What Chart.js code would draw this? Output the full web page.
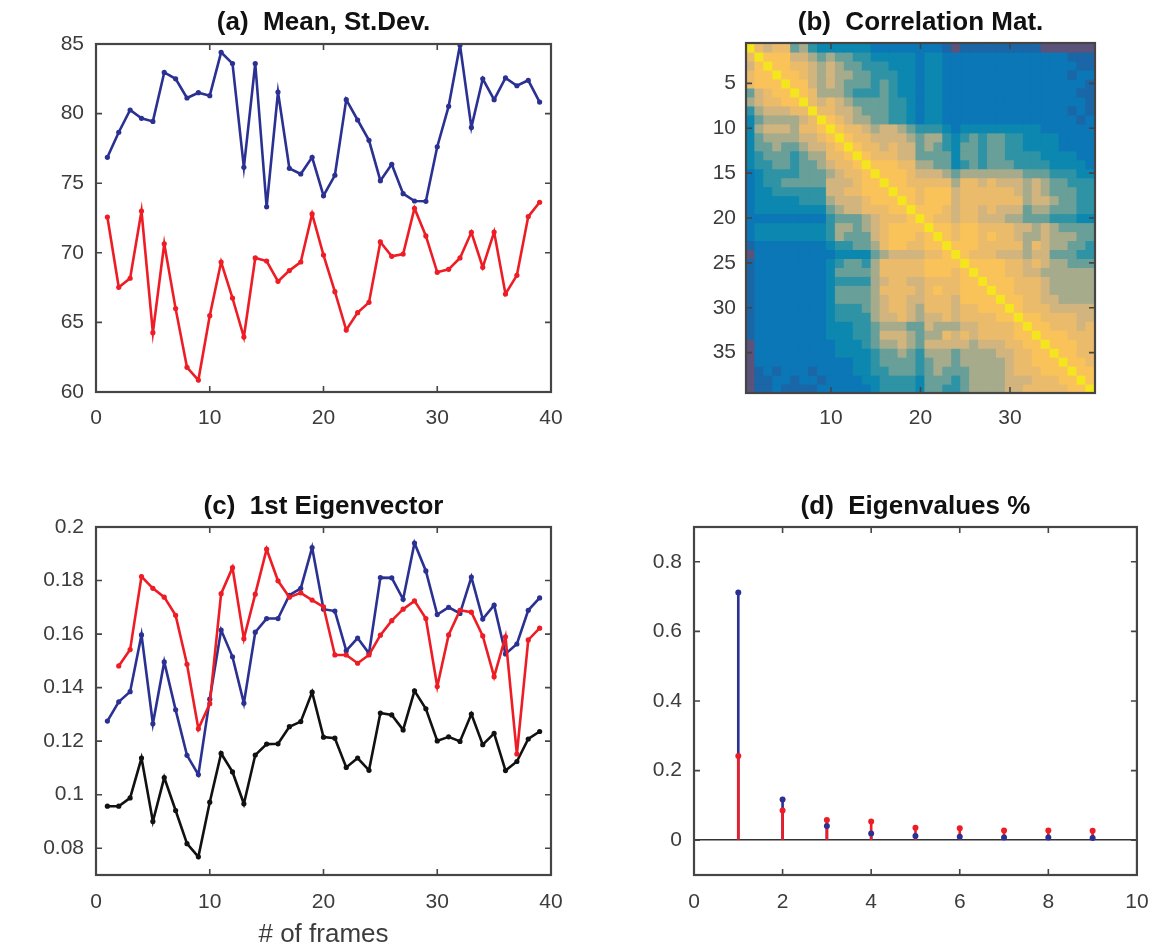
<!DOCTYPE html>
<html>
<head>
<meta charset="utf-8">
<script src="https://cdn.jsdelivr.net/npm/chart.js@4.4.1/dist/chart.umd.min.js"></script>
<style>
  html, body { margin: 0; padding: 0; background: #fff; }
  body { width: 1163px; height: 950px; position: relative; overflow: hidden; }
  canvas { position: absolute; }
</style>
</head>
<body>
<canvas id="chartA" width="580" height="460" style="left:0;top:0"></canvas>
<canvas id="chartB" width="563" height="460" style="left:600px;top:0"></canvas>
<canvas id="chartC" width="580" height="470" style="left:0;top:480px"></canvas>
<canvas id="chartD" width="563" height="470" style="left:600px;top:480px"></canvas>
<script>
// ---- data ----
const frames = [1, 2, 3, 4, 5, 6, 7, 8, 9, 10, 11, 12, 13, 14, 15, 16, 17, 18, 19, 20,
  21, 22, 23, 24, 25, 26, 27, 28, 29, 30, 31, 32, 33, 34, 35, 36, 37, 38, 39];

// (a) mean per frame
const meanBlue = [76.86, 78.66, 80.26, 79.66, 79.44, 82.96, 82.5, 81.12, 81.5, 81.29,
  84.4, 83.6, 76.14, 83.6, 73.3, 81.55, 76.07, 75.66, 76.86, 74.1,
  75.57, 81.0, 79.54, 78.08, 75.18, 76.36, 74.25, 73.72, 73.7, 77.62,
  80.52, 84.93, 79.01, 82.5, 81.0, 82.56, 82.0, 82.39, 80.83];
const meanRed = [72.57, 67.52, 68.17, 73.0, 64.26, 70.65, 65.99, 61.77, 60.86, 65.48,
  69.34, 66.75, 63.95, 69.63, 69.41, 67.95, 68.72, 69.34, 72.79, 69.84,
  67.21, 64.45, 65.7, 66.44, 70.78, 69.75, 69.91, 73.2, 71.21, 68.6,
  68.81, 69.63, 71.47, 68.96, 71.49, 67.04, 68.38, 72.6, 73.63];

// (c) first eigenvector
const eigBlue = [0.1275, 0.1347, 0.1385, 0.1597, 0.1265, 0.1496, 0.1317, 0.1147, 0.1075, 0.1357,
  0.1615, 0.1515, 0.1342, 0.1607, 0.1658, 0.1658, 0.1745, 0.1771, 0.1923, 0.1693,
  0.1686, 0.1538, 0.1585, 0.1528, 0.1811, 0.181, 0.173, 0.194, 0.1836, 0.1673,
  0.170, 0.1677, 0.1813, 0.1656, 0.1708, 0.1526, 0.1563, 0.1689, 0.1735];
const eigRed = [null, 0.1481, 0.1542, 0.1815, 0.1771, 0.1738, 0.167, 0.1487, 0.1246, 0.134,
  0.1751, 0.1848, 0.1583, 0.1749, 0.1917, 0.1799, 0.1738, 0.1754, 0.1727, 0.1702,
  0.1522, 0.1522, 0.1491, 0.1522, 0.1596, 0.165, 0.1693, 0.1724, 0.1658, 0.1404,
  0.1597, 0.1689, 0.1682, 0.1593, 0.1441, 0.159, 0.1152, 0.1578, 0.1622];
const eigBlack = [0.0957, 0.0957, 0.0988, 0.1137, 0.09, 0.1064, 0.0941, 0.0817, 0.0768, 0.0972,
  0.1154, 0.1085, 0.0966, 0.1148, 0.1189, 0.119, 0.1254, 0.1273, 0.1383, 0.1215,
  0.1211, 0.1102, 0.1137, 0.1091, 0.1305, 0.1298, 0.1242, 0.1388, 0.1321, 0.1201,
  0.1216, 0.1199, 0.1301, 0.1187, 0.1229, 0.109, 0.1124, 0.1208, 0.1236];

// (d) eigenvalues
const eigIdx = [1, 2, 3, 4, 5, 6, 7, 8, 9];
const eigvalBlue = [0.712, 0.117, 0.041, 0.019, 0.012, 0.010, 0.008, 0.008, 0.006];
const eigvalRed = [0.242, 0.085, 0.058, 0.054, 0.036, 0.034, 0.028, 0.028, 0.027];

// (b) correlation matrix, lower triangle, colour level 0..9, A = diagonal
const corrRows = [
  "A",
  "8 A",
  "7 9 A",
  "8 9 9 A",
  "8 9 9 9 A",
  "5 7 8 9 9 A",
  "6 7 8 8 9 9 A",
  "4 6 7 7 7 8 8 A",
  "3 5 6 6 6 6 7 8 A",
  "3 6 7 7 7 6 8 8 9 A",
  "3 5 6 6 6 6 7 7 8 9 A",
  "3 5 5 6 5 5 6 7 7 8 9 A",
  "3 4 5 5 5 4 5 6 6 8 8 9 A",
  "3 4 4 5 5 4 5 5 6 7 8 8 9 A",
  "2 3 4 4 4 4 5 5 5 6 7 8 8 9 A",
  "2 3 4 4 5 5 5 5 5 7 7 7 8 9 9 A",
  "2 3 3 4 4 4 4 4 4 7 7 8 8 9 9 9 A",
  "2 3 3 3 3 3 4 4 4 6 7 7 7 8 9 9 9 A",
  "2 3 3 3 3 3 3 3 3 5 6 7 7 8 8 8 9 9 A",
  "2 2 2 2 2 2 2 2 2 4 5 5 5 6 7 8 8 8 9 A",
  "2 3 3 3 3 3 3 3 3 4 6 6 5 6 7 8 9 9 9 9 A",
  "2 3 3 3 3 3 3 3 3 4 6 5 5 5 7 8 9 9 9 8 9 A",
  "1 2 2 2 2 2 2 2 2 3 4 4 5 5 6 8 9 9 8 8 9 9 A",
  "0 2 2 2 2 2 2 2 2 2 3 3 3 3 5 6 7 7 7 7 8 8 9 A",
  "1 2 2 2 2 2 2 2 2 3 4 5 5 4 6 8 8 8 8 8 9 9 9 9 A",
  "1 2 2 2 2 2 2 2 2 3 5 5 5 5 6 8 8 8 8 8 9 9 9 8 9 A",
  "1 2 2 2 2 2 2 2 2 3 4 4 4 4 6 7 8 8 7 7 8 8 8 8 9 9 A",
  "1 2 2 2 2 2 2 2 2 3 5 5 5 5 6 8 8 8 8 7 8 9 8 8 9 9 9 A",
  "1 2 2 2 2 2 2 2 2 3 5 5 5 5 6 7 8 8 7 7 8 8 8 7 9 9 9 9 A",
  "1 2 2 2 2 2 2 2 2 3 4 4 4 5 6 7 8 8 7 6 8 8 8 7 8 8 9 9 9 A",
  "1 2 2 2 2 2 2 2 2 3 4 4 4 4 6 7 7 8 7 6 7 7 8 7 8 8 8 8 9 9 A",
  "1 2 2 2 2 2 2 2 2 3 3 3 4 4 5 6 6 6 5 5 7 6 6 6 7 7 8 8 8 8 9 A",
  "1 2 2 2 2 2 2 2 2 3 3 3 4 4 5 7 7 7 6 5 6 6 8 7 8 7 8 8 8 8 9 9 A",
  "0 2 2 2 2 2 2 2 2 2 3 3 3 4 5 6 6 7 6 5 7 7 7 7 7 6 7 7 7 8 8 9 9 A",
  "0 2 2 2 2 2 2 2 2 2 3 3 3 3 4 5 5 6 5 4 6 6 6 5 6 6 6 6 7 7 8 8 9 9 A",
  "0 2 2 2 2 2 2 2 2 2 2 2 3 3 4 5 5 5 5 4 5 6 6 5 6 6 6 6 6 7 8 8 9 9 9 A",
  "0 1 2 1 2 2 2 1 2 2 2 2 3 3 4 4 5 5 5 4 5 6 5 5 5 6 6 6 6 7 8 8 8 9 9 9 A",
  "0 1 1 2 2 1 2 2 1 2 2 2 2 3 3 4 4 4 4 3 5 5 5 4 5 6 6 6 6 7 7 7 8 8 8 9 9 A",
  "0 1 1 2 1 1 1 1 2 2 2 2 2 2 3 4 4 4 4 3 5 5 4 4 5 6 6 6 6 7 7 8 8 8 8 8 9 9 A"
];
const corrPalette = {
  "0": "#5b5379", "1": "#1a66a6", "2": "#0b77b6", "3": "#0c87b0", "4": "#2f93a6",
  "5": "#689f98", "6": "#a6ab8c", "7": "#d1b47e", "8": "#ebbb6c", "9": "#fac35a",
  "A": "#f3e51e"
};

// tick positions
const frameTicks = [0, 10, 20, 30, 40];
const meanTicks = [60, 65, 70, 75, 80, 85];
const eigvecTicks = [0.08, 0.10, 0.12, 0.14, 0.16, 0.18, 0.20];
const corrXTicks = [10, 20, 30];
const corrYTicks = [5, 10, 15, 20, 25, 30, 35];
const eigIdxTicks = [0, 2, 4, 6, 8, 10];
const eigvalTicks = [0, 0.2, 0.4, 0.6, 0.8];

// ---- styles ----
const BLUE = '#2b3192';
const RED = '#ee1d25';
const BLACK = '#111111';
const AXIS = '#454545';
const TICK_COLOR = '#3c3c3c';
const FONT = "'Liberation Sans', Arial, Helvetica, sans-serif";

Chart.defaults.font.family = FONT;
Chart.defaults.color = TICK_COLOR;
Chart.defaults.animation = false;

// MATLAB-like box with inward ticks on all four sides
const boxTicks = {
  id: 'boxTicks',
  afterDraw(chart) {
    const {ctx, chartArea: a, scales} = chart;
    const len = 6;
    ctx.save();
    ctx.strokeStyle = AXIS;
    ctx.lineWidth = 1.6;
    ctx.beginPath();
    scales.x.ticks.forEach(t => {
      const px = scales.x.getPixelForValue(t.value);
      ctx.moveTo(px, a.bottom); ctx.lineTo(px, a.bottom - len);
      ctx.moveTo(px, a.top); ctx.lineTo(px, a.top + len);
    });
    scales.y.ticks.forEach(t => {
      const py = scales.y.getPixelForValue(t.value);
      ctx.moveTo(a.left, py); ctx.lineTo(a.left + len, py);
      ctx.moveTo(a.right, py); ctx.lineTo(a.right - len, py);
    });
    ctx.stroke();
    ctx.lineWidth = 2.2;
    ctx.strokeRect(a.left, a.top, a.right - a.left, a.bottom - a.top);
    ctx.restore();
  }
};

const setTicks = vals => scale => { scale.ticks = vals.map(v => ({value: v})); };
const tickFont = {size: 21};
const titleFont = {size: 26, weight: 'bold'};
const numLabel = v => String(+(+v).toFixed(2));

function lineSet(xs, ys, color) {
  return {
    data: xs.map((x, i) => ({x: x, y: ys[i]})),
    borderColor: color,
    backgroundColor: color,
    borderWidth: 2.6,
    pointRadius: 2.6,
    pointBorderWidth: 0,
    tension: 0
  };
}

// (a) Mean, St.Dev.
new Chart(document.getElementById('chartA'), {
  type: 'line',
  data: {
    datasets: [
      lineSet(frames, meanBlue, BLUE),
      lineSet(frames, meanRed, RED)
    ]
  },
  options: {
    responsive: false,
    events: [],
    layout: {padding: {left: 0, right: 29, top: 0, bottom: 0}},
    plugins: {
      legend: {display: false},
      tooltip: {enabled: false},
      title: {display: true, text: '(a)  Mean, St.Dev.', fullSize: false, color: '#111',
        font: titleFont, padding: {top: 7.7, bottom: 5.1}}
    },
    scales: {
      x: {
        type: 'linear', min: 0, max: 40,
        afterBuildTicks: setTicks(frameTicks),
        afterFit: s => { s.height = 68; },
        grid: {display: false, drawTicks: false}, border: {display: false},
        ticks: {font: tickFont, padding: 13.4, maxRotation: 0}
      },
      y: {
        min: 60, max: 85,
        afterBuildTicks: setTicks(meanTicks),
        afterFit: s => { s.width = 96; },
        grid: {display: false, drawTicks: false}, border: {display: false},
        ticks: {font: tickFont, padding: 12}
      }
    }
  },
  plugins: [boxTicks]
});

// (b) Correlation matrix
const corrLevel = corrRows.map(r => r.split(' '));
function corrColor(r, c) {
  const lv = r >= c ? corrLevel[r - 1][c - 1] : corrLevel[c - 1][r - 1];
  return corrPalette[lv];
}
new Chart(document.getElementById('chartB'), {
  type: 'bar',
  data: {
    datasets: frames.map(r => ({
      data: frames.map(c => ({x: c, y: [r - 0.5, r + 0.5]})),
      backgroundColor: frames.map(c => corrColor(r, c)),
      borderWidth: 0,
      grouped: false,
      barPercentage: 1,
      categoryPercentage: 1,
      inflateAmount: 0.6
    }))
  },
  options: {
    responsive: false,
    events: [],
    layout: {padding: {left: 0, right: 68, top: 0, bottom: 0}},
    plugins: {
      legend: {display: false},
      tooltip: {enabled: false},
      title: {display: true, text: '(b)  Correlation Mat.', fullSize: false, color: '#111',
        font: titleFont, padding: {top: 7.7, bottom: 4.1}}
    },
    scales: {
      x: {
        type: 'linear', min: 0.5, max: 39.5, offset: false,
        afterBuildTicks: setTicks(corrXTicks),
        afterFit: s => { s.height = 67; },
        grid: {display: false, drawTicks: false}, border: {display: false},
        ticks: {font: tickFont, padding: 12.4, maxRotation: 0}
      },
      y: {
        type: 'linear', min: 0.5, max: 39.5, reverse: true,
        afterBuildTicks: setTicks(corrYTicks),
        afterFit: s => { s.width = 146; },
        grid: {display: false, drawTicks: false}, border: {display: false},
        ticks: {font: tickFont, padding: 10}
      }
    }
  },
  plugins: [boxTicks]
});

// (c) 1st Eigenvector
new Chart(document.getElementById('chartC'), {
  type: 'line',
  data: {
    datasets: [
      lineSet(frames, eigRed, RED),
      lineSet(frames, eigBlue, BLUE),
      lineSet(frames, eigBlack, BLACK)
    ]
  },
  options: {
    responsive: false,
    events: [],
    layout: {padding: {left: 0, right: 29, top: 0, bottom: 0}},
    plugins: {
      legend: {display: false},
      tooltip: {enabled: false},
      title: {display: true, text: '(c)  1st Eigenvector', fullSize: false, color: '#111',
        font: titleFont, padding: {top: 11.4, bottom: 4.4}}
    },
    scales: {
      x: {
        type: 'linear', min: 0, max: 40,
        afterBuildTicks: setTicks(frameTicks),
        afterFit: s => { s.height = 75; },
        grid: {display: false, drawTicks: false}, border: {display: false},
        ticks: {font: tickFont, padding: 14.4, maxRotation: 0},
        title: {display: true, text: '# of frames', color: TICK_COLOR,
          font: {size: 26}, padding: {top: 0, bottom: 0}}
      },
      y: {
        min: 0.07, max: 0.2,
        afterBuildTicks: setTicks(eigvecTicks),
        afterFit: s => { s.width = 96; },
        grid: {display: false, drawTicks: false}, border: {display: false},
        ticks: {font: tickFont, padding: 12, callback: numLabel}
      }
    }
  },
  plugins: [boxTicks]
});

// (d) Eigenvalues %
function stemSet(ys, color, order) {
  return {
    type: 'bar',
    data: eigIdx.map((k, i) => ({x: k, y: ys[i]})),
    backgroundColor: color,
    barThickness: 2,
    grouped: false,
    borderWidth: 0,
    order: order
  };
}
function headSet(ys, color, order) {
  return {
    type: 'scatter',
    data: eigIdx.map((k, i) => ({x: k, y: ys[i]})),
    backgroundColor: color,
    borderColor: color,
    pointRadius: 3,
    pointBorderWidth: 0,
    order: order
  };
}
new Chart(document.getElementById('chartD'), {
  type: 'scatter',
  data: {
    datasets: [
      stemSet(eigvalBlue, BLUE, 3),
      stemSet(eigvalRed, RED, 2),
      headSet(eigvalBlue, BLUE, 1),
      headSet(eigvalRed, RED, 0)
    ]
  },
  options: {
    responsive: false,
    events: [],
    layout: {padding: {left: 0, right: 14, top: 0, bottom: 0}},
    plugins: {
      legend: {display: false},
      tooltip: {enabled: false},
      title: {display: true, text: '(d)  Eigenvalues %', fullSize: false, color: '#111',
        font: titleFont, padding: {top: 11.4, bottom: 4.4}}
    },
    scales: {
      x: {
        type: 'linear', min: 0, max: 10, offset: false,
        afterBuildTicks: setTicks(eigIdxTicks),
        afterFit: s => { s.height = 75; },
        grid: {display: false, drawTicks: false}, border: {display: false},
        ticks: {font: tickFont, padding: 14.4, maxRotation: 0}
      },
      y: {
        type: 'linear', min: -0.1, max: 0.9,
        afterBuildTicks: setTicks(eigvalTicks),
        afterFit: s => { s.width = 94; },
        grid: {
          display: true, drawTicks: false, lineWidth: 1.6,
          color: c => (c.tick && c.tick.value === 0 ? '#333333' : 'rgba(0,0,0,0)')
        },
        border: {display: false},
        ticks: {font: tickFont, padding: 12, callback: numLabel}
      }
    }
  },
  plugins: [boxTicks]
});
</script>
</body>
</html>
